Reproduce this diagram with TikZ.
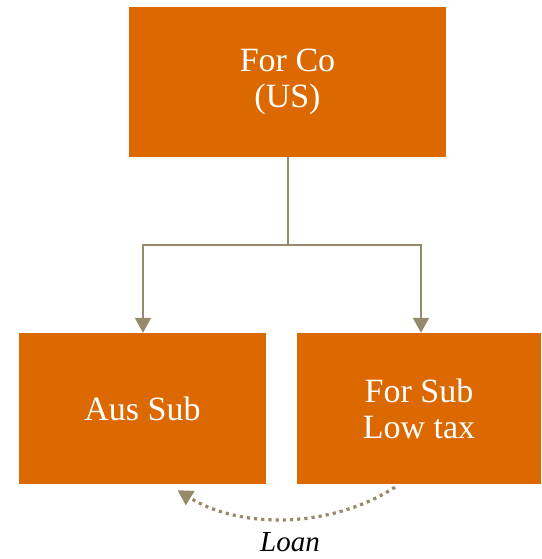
\documentclass[tikz,border=0pt]{standalone}
\usepackage{fontspec}
\setmainfont{Liberation Serif}
\usepackage{tikz}
\usetikzlibrary{positioning, calc, arrows.meta}

\definecolor{pwcorange}{RGB}{220,104,0}
\definecolor{linkgrey}{RGB}{150,138,106}

\begin{document}
\begin{tikzpicture}[x=1pt, y=1pt,
        entity/.style={fill=pwcorange, text=white, align=center, inner sep=0pt,
            font=\fontsize{34}{36}\selectfont},
        link/.style={draw=linkgrey, line width=2pt},
        tip/.style={-{Triangle[length=15pt, width=16pt]}}]
            \useasboundingbox (0,0) rectangle (541,559);
            % entities
            \node[entity, minimum width=317pt, minimum height=150pt] (forco) at (287.5,477) {For Co\\(US)};
            \node[entity, minimum width=247pt, minimum height=151pt] (aussub) at (142.5,150.5) {Aus Sub};
            \node[entity, minimum width=244pt, minimum height=151pt] (forsub) at (419,150.5) {For Sub\\Low tax};
            % ownership
            \coordinate (bus) at (287.5,314);
            \draw[link] (forco.south) -- (bus);
            \draw[link, tip] (bus) -| ([xshift=0.5pt]aussub.north);
            \draw[link, tip] (bus) -| ([xshift=2pt]forsub.north);
            % loan
            \coordinate (loanfrom) at ([xshift=-24pt, yshift=-3pt]forsub.south);
            \coordinate (loanto) at ([xshift=35pt, yshift=-6pt]aussub.south);
            \draw[draw=linkgrey, line width=3.2pt, dash pattern=on 3.2pt off 4pt,
                -{Triangle[length=15pt, width=16pt]}]
                (loanfrom) .. controls (330,30) and (240,30) .. (loanto);
            \node[font=\fontsize{29}{34}\selectfont\itshape, inner sep=0pt, anchor=base] (loan) at (290,8) {Loan};
        \end{tikzpicture}
\end{document}
